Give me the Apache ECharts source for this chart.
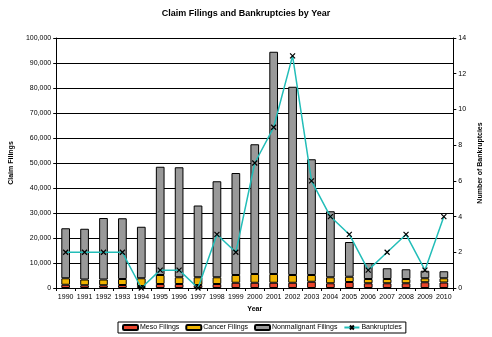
<!DOCTYPE html>
<html>
<head>
<meta charset="utf-8">
<script src="https://cdn.jsdelivr.net/npm/echarts@6/dist/echarts.min.js"></script>
<style>
  html, body { margin: 0; padding: 0; background: #fff; }
  #chart { width: 492px; height: 337px; }
</style>
</head>
<body>
<div id="chart"></div>
<script>
const years = ["1990","1991","1992","1993","1994","1995","1996","1997","1998","1999","2000",
  "2001","2002","2003","2004","2005","2006","2007","2008","2009","2010"];
const meso = [1300,1100,1100,1200,800,1600,1600,1200,1600,2100,2100,2100,2100,2500,1900,2400,1900,1900,1900,2300,2200];
const cancer = [2600,2300,2300,2400,3100,3600,2700,3100,2700,3100,3500,3500,3100,2700,2400,2100,1700,1700,1700,1600,1700];
const nonmalignant = [20000,20300,24600,24300,20600,43300,44000,28700,38400,40800,51900,88900,75300,46300,26400,13900,6400,4300,3900,3000,2800];
const bankruptcies = [2,2,2,2,0,1,1,0,3,2,7,9,13,6,4,3,1,2,3,1,4];

const font = "Liberation Sans";
const xMark = "path://M0,0L10,10M10,0L0,10";

const barBorder = { borderColor: "#000", borderWidth: 1 };

const chart = echarts.init(document.getElementById("chart"));
chart.setOption({
  animation: false,
  textStyle: { fontFamily: font, color: "#000" },
  title: {
    text: "Claim Filings and Bankruptcies by Year",
    left: "center", top: 4,
    textStyle: { fontSize: 9, fontWeight: "bold", fontFamily: font, color: "#000" }
  },
  grid: { left: 54, right: 26, top: 38, bottom: 49 },
  legend: {
    bottom: 4, left: 118,
    borderColor: "#000", borderWidth: 1, padding: [2, 4],
    itemWidth: 15, itemHeight: 5, itemGap: 6,
    textStyle: { fontSize: 7, fontFamily: font, color: "#000", padding: [0, 0, 0, -3] },
    data: ["Meso Filings", "Cancer Filings", "Nonmalignant Filings", "Bankruptcies"]
  },
  xAxis: {
    type: "category", data: years,
    name: "Year", nameLocation: "middle", nameGap: 18,
    nameTextStyle: { fontSize: 7, fontWeight: "bold", color: "#000" },
    axisLine: { lineStyle: { color: "#000" } },
    axisTick: { show: true, alignWithLabel: false, length: 3, lineStyle: { color: "#000" } },
    axisLabel: { interval: 0, fontSize: 7, color: "#000", margin: 6 }
  },
  yAxis: [
    {
      type: "value", min: 0, max: 100000, interval: 10000,
      name: "Claim Filings", nameLocation: "middle", nameGap: 36,
      nameTextStyle: { fontSize: 7, fontWeight: "bold", color: "#000" },
      axisLine: { show: true, lineStyle: { color: "#000" } },
      axisTick: { show: true, length: 3, lineStyle: { color: "#000" } },
      axisLabel: {
        fontSize: 7, color: "#000", margin: 5,
        formatter: v => v.toLocaleString("en-US")
      },
      splitLine: { lineStyle: { color: "#000", width: 1 } }
    },
    {
      type: "value", min: 0, max: 14, interval: 2, position: "right",
      name: "Number of Bankruptcies", nameLocation: "middle", nameGap: 19,
      nameRotate: 90,
      nameTextStyle: { fontSize: 7, fontWeight: "bold", color: "#000" },
      axisLine: { show: true, lineStyle: { color: "#000" } },
      axisTick: { show: true, length: 3, lineStyle: { color: "#000" } },
      axisLabel: { fontSize: 7, color: "#000", margin: 5 },
      splitLine: { show: false }
    }
  ],
  series: [
    {
      name: "Meso Filings", type: "bar", stack: "f", data: meso, barWidth: "46%",
      itemStyle: Object.assign({ color: "#E8452C" }, barBorder)
    },
    {
      name: "Cancer Filings", type: "bar", stack: "f", data: cancer,
      itemStyle: Object.assign({ color: "#F0B400" }, barBorder)
    },
    {
      name: "Nonmalignant Filings", type: "bar", stack: "f", data: nonmalignant,
      itemStyle: Object.assign({ color: "#999999" }, barBorder)
    },
    {
      name: "Bankruptcies", type: "line", yAxisIndex: 1, data: bankruptcies,
      symbol: xMark, symbolSize: 5, showAllSymbol: true,
      lineStyle: { color: "#22BDB8", width: 1.5 },
      itemStyle: { color: "#000", borderColor: "#000", borderWidth: 1.2 },
      z: 5
    }
  ]
});
</script>
</body>
</html>
